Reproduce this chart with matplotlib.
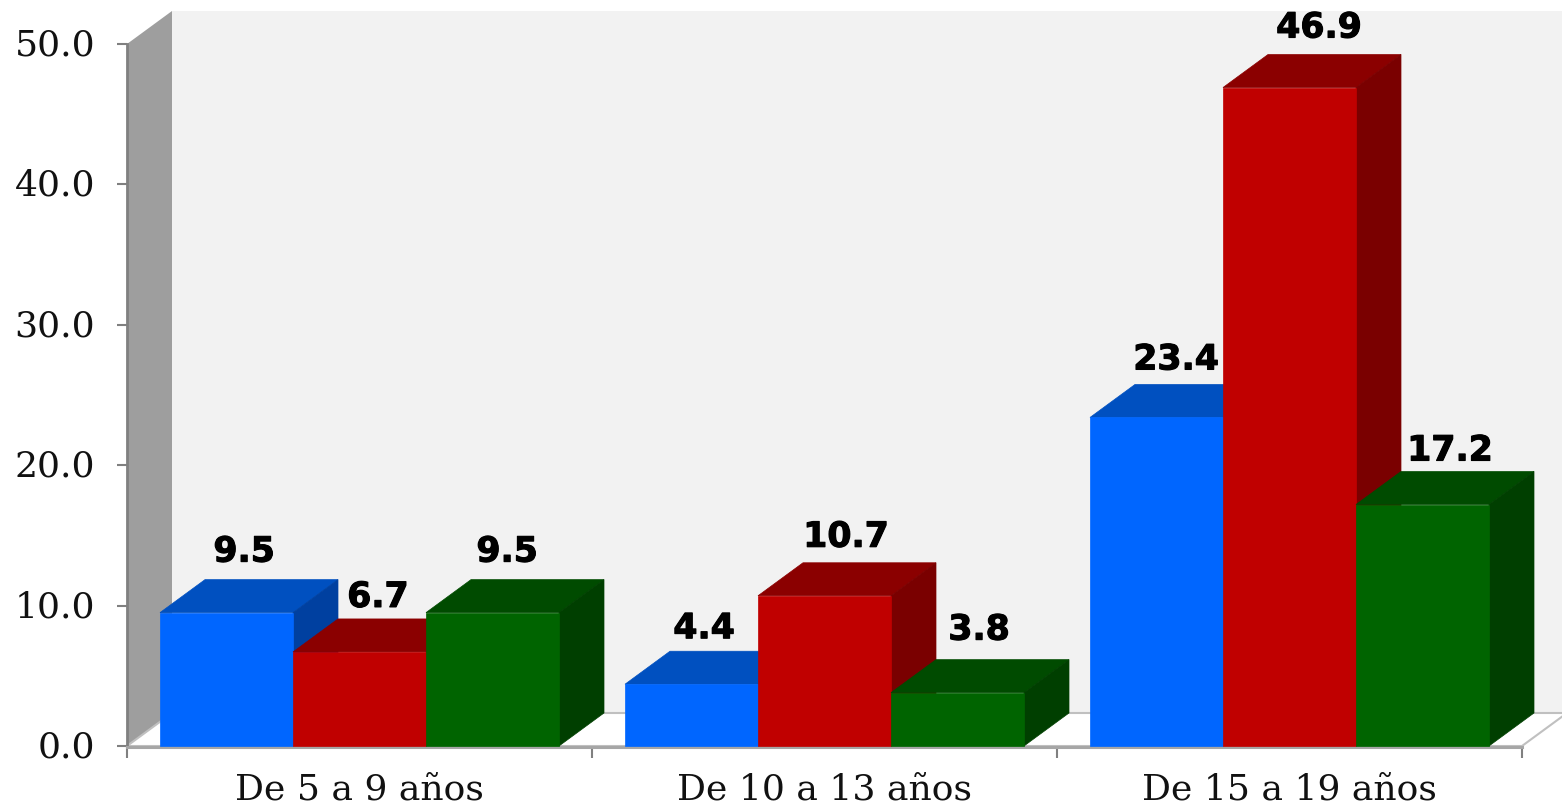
import matplotlib
matplotlib.use('Agg')
from matplotlib import pyplot as plt
from matplotlib import patheffects
from matplotlib.transforms import ScaledTranslation

# Data
categories = ['De 5 a 9 años', 'De 10 a 13 años', 'De 15 a 19 años']
blue_values = [9.5, 4.4, 23.4]
red_values = [6.7, 10.7, 46.9]
green_values = [9.5, 3.8, 17.2]
y_ticks = [0, 10, 20, 30, 40, 50]

# front, top, side
blue_colors = ['#0066ff', '#0050c0', '#0040a0']
red_colors = ['#c00000', '#8b0000', '#7a0000']
green_colors = ['#006400', '#004b00', '#003f00']

# label nudges in pixels, relative to the centre of the top of each bar
blue_nudge = [(-5, 28), (-10, 23), (-3, 25)]
red_nudge = [(-4, 22), (-1, 26), (7, 27)]
green_nudge = [(-8, 28), (-1, 30), (5, 21)]

fig = plt.figure(figsize=(15.62, 8.06), dpi=100)
ax = fig.add_axes([127 / 1562, (806 - 746) / 806, 1395 / 1562, 702 / 806])
ax.set_xlim(0, 3)
ax.set_ylim(0, 50)
ax.patch.set_visible(False)

# depth of the fake 3d effect, in data units
dx = 45 / 465
dy = 33 / 14.04
bar_w = 133 / 465
serif = 'DejaVu Serif'

# back wall, side wall, floor
ax.fill([dx, 3 + dx, 3 + dx, dx], [dy, dy, 50 + dy, 50 + dy], color='#f2f2f2', lw=0, clip_on=False, zorder=1)
ax.fill([0, dx, dx, 0], [0, dy, 50 + dy, 50], color='#9e9e9e', lw=0, clip_on=False, zorder=1)
ax.fill([0, dx, 3 + dx, 3], [0, dy, dy, 0], facecolor='white', edgecolor='#c0c0c0', lw=1.5, clip_on=False, zorder=1)


def draw_bar(x, v, colors, nudge, z):
    left = x - bar_w / 2
    right = x + bar_w / 2
    ax.fill([left, left + dx, right + dx, right], [v, v + dy, v + dy, v], color=colors[1], lw=0.5, clip_on=False, zorder=z)
    ax.fill([right, right + dx, right + dx, right], [0, dy, v + dy, v], color=colors[2], lw=0.5, clip_on=False, zorder=z)
    ax.bar(x, v, width=bar_w, color=colors[0], edgecolor=colors[0], lw=0.5, clip_on=False, zorder=z)
    t = ax.annotate(f'{v:.1f}', (x + dx / 2, v + dy), xytext=nudge, textcoords='offset pixels',
                    ha='center', va='center', fontsize=25, fontweight='bold',
                    fontfamily='DejaVu Sans', color='black', zorder=20)
    t.set_path_effects([patheffects.withStroke(linewidth=0.8, foreground='black')])


z = 3
for i in range(len(categories)):
    c = i + 0.5
    draw_bar(c - bar_w, blue_values[i], blue_colors, blue_nudge[i], z)
    draw_bar(c, red_values[i], red_colors, red_nudge[i], z + 1)
    draw_bar(c + bar_w, green_values[i], green_colors, green_nudge[i], z + 2)
    z += 3

# axes
for name in ['top', 'right']:
    ax.spines[name].set_visible(False)
ax.spines['left'].set_color('#808080')
ax.spines['left'].set_linewidth(2)
ax.spines['left'].set_zorder(2)
ax.spines['bottom'].set_color('#a6a6a6')
ax.spines['bottom'].set_linewidth(2.2)
ax.spines['bottom'].set_position(('outward', 1))
ax.spines['bottom'].set_zorder(2)

ax.set_yticks(y_ticks)
ax.set_yticklabels([f'{t:.1f}' for t in y_ticks], fontfamily=serif, fontsize=26, color='#111111')
ax.tick_params(axis='y', length=7, width=1.5, color='#808080', pad=16)
# the y labels sit a little higher than matplotlib centres them
for lab in ax.get_yticklabels():
    lab.set_transform(lab.get_transform() + ScaledTranslation(0, 2 / 100, fig.dpi_scale_trans))

ax.set_xticks([0, 1, 2, 3])
ax.set_xticklabels([])
ax.tick_params(axis='x', which='major', length=8, width=1.5, color='#808080')
ax.set_xticks([i + 0.5 for i in range(len(categories))], minor=True)
ax.set_xticklabels(categories, minor=True, fontfamily=serif, fontsize=26, color='#111111')
ax.tick_params(axis='x', which='minor', length=0, pad=18)

fig.savefig('out.png', dpi=100)
